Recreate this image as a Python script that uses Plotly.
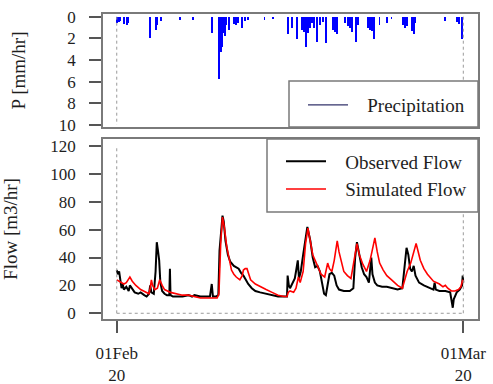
import pandas as pd
import plotly.graph_objects as go

START = pd.Timestamp("2020-02-01")
END = pd.Timestamp("2020-03-01")

# Precipitation [mm/hr]: day offsets from 01Feb and depths
precip_day = [0.0, 0.17, 0.33, 0.6, 0.84, 1.0, 2.76, 3.26, 3.39, 3.68, 5.27, 6.36, 7.95,
              8.54, 8.62, 8.70, 8.79, 8.87, 9.04, 9.2, 9.37, 9.79, 9.96, 10.13, 10.46, 10.71,
              10.96, 12.38, 13.05, 14.31, 14.64, 15.06, 15.48, 15.65, 15.82, 15.98, 16.15,
              16.32, 16.49, 16.74, 16.99, 17.24, 17.49, 18.08, 18.25, 18.41, 19.08, 19.33,
              19.5, 19.67, 20.0, 20.17, 21.0, 21.17, 21.34, 21.51, 22.0, 22.6, 23.0, 23.93,
              24.1, 24.27, 24.69, 24.85, 25.0, 27.45, 28.45, 28.62, 28.87]
precip_val = [0.6, 0.5, 0.4, 0.7, 0.8, 0.6, 2.0, 1.2, 0.8, 0.4, 0.3, 0.3, 1.5,
              5.8, 3.0, 3.3, 2.8, 1.5, 1.8, 0.8, 1.2, 0.7, 0.8, 0.6, 1.0, 0.4,
              0.3, 0.3, 0.2, 1.6, 1.0, 2.1, 1.2, 1.4, 2.8, 1.5, 1.0,
              0.6, 1.0, 2.3, 0.8, 0.5, 2.4, 1.2, 1.4, 1.6, 0.6, 0.9,
              1.0, 1.4, 2.3, 0.8, 1.0, 1.2, 1.3, 2.1, 0.8, 0.6, 0.2, 0.8,
              1.0, 0.9, 1.3, 1.6, 0.6, 0.4, 0.5, 0.7, 2.1]

# Observed flow [m3/hr]
obs_day = [0.0, 0.1, 0.2, 0.3, 0.4, 0.5, 0.6, 0.8, 1.0, 1.1, 1.3, 1.5, 1.8, 2.0, 2.3, 2.5,
           2.7, 2.8, 2.9, 3.1, 3.25, 3.35, 3.45, 3.55, 3.65, 3.8, 4.0, 4.2, 4.4, 4.45, 4.5,
           4.7, 5.0, 5.5, 6.0, 6.3, 6.5, 7.0, 7.5, 7.8, 7.95, 8.05, 8.3, 8.5, 8.6, 8.75,
           8.85, 8.95, 9.1, 9.3, 9.5, 9.8, 10.0, 10.2, 10.4, 10.6, 10.8, 11.0, 11.3, 11.6,
           12.0, 12.5, 13.0, 13.5, 14.0, 14.25, 14.3, 14.4, 14.5, 14.7, 14.9, 15.0, 15.15,
           15.25, 15.4, 15.6, 15.8, 15.95, 16.2, 16.4, 16.6, 16.8, 17.0, 17.2, 17.35, 17.5,
           17.65, 17.8, 18.0, 18.2, 18.4, 18.6, 19.0, 19.5, 19.8, 19.95, 20.1, 20.3, 20.5,
           20.7, 20.9, 21.1, 21.3, 21.4, 21.6, 21.8, 22.2, 22.6, 23.1, 23.5, 23.9, 24.1,
           24.25, 24.4, 24.55, 24.7, 24.85, 25.0, 25.3, 25.7, 26.2, 26.5, 26.6, 26.7, 27.0,
           27.5, 27.9, 28.05, 28.12, 28.2, 28.45, 28.7, 28.9, 28.95, 29.0]
obs_val = [31, 28, 30, 24, 18, 21, 17, 19, 16, 20, 17, 15, 14, 15, 13, 12,
           14, 20, 15, 14, 30, 51, 45, 38, 22, 16, 14, 13, 13, 32, 13,
           12, 12, 12, 13, 12, 13, 12, 12, 12, 21, 12, 12, 13, 45, 62,
           70, 66, 52, 42, 37, 34, 33, 32, 29, 27, 24, 21, 18, 16,
           15, 14, 13, 12, 12, 12, 27, 20, 18, 22, 25, 30, 38,
           25, 30, 42, 55, 62, 52, 40, 33, 34, 30, 22, 14, 13,
           20, 28, 29, 27, 20, 17, 16, 16, 18, 40, 51, 42, 33,
           28, 26, 22, 40, 28, 22, 20, 19, 19, 18, 17, 18, 35,
           47, 42, 32, 30, 34, 27, 22, 20, 18, 17, 22, 17, 16,
           16, 15, 8, 4, 10, 15, 17, 20, 27, 22]

# Simulated flow [m3/hr]
sim_day = [0.0, 0.2, 0.4, 0.6, 0.8, 1.0, 1.1, 1.3, 1.6, 2.0, 2.4, 2.7, 2.8, 2.9, 3.0, 3.2,
           3.4, 3.6, 3.8, 4.0, 4.5, 5.0, 5.5, 6.0, 6.5, 7.0, 7.5, 8.0, 8.4, 8.55, 8.7, 8.85,
           9.0, 9.2, 9.4, 9.6, 9.8, 10.0, 10.3, 10.5, 10.6, 10.75, 10.9, 11.0, 11.2, 11.6,
           12.0, 12.5, 13.0, 13.5, 14.0, 14.25, 14.35, 14.5, 14.8, 15.0, 15.2, 15.35, 15.6,
           15.8, 16.0, 16.2, 16.4, 16.7, 16.9, 17.1, 17.4, 17.65, 17.8, 18.0, 18.2, 18.45,
           18.6, 18.8, 19.0, 19.3, 19.6, 19.9, 20.1, 20.3, 20.6, 20.9, 21.2, 21.5, 21.6,
           21.8, 22.0, 22.3, 22.6, 23.0, 23.5, 23.9, 24.1, 24.3, 24.6, 24.85, 25.05, 25.2,
           25.4, 25.7, 26.0, 26.5, 27.0, 27.3, 27.5, 27.7, 28.0, 28.3, 28.6, 28.8, 28.95, 29.0]
sim_val = [24, 23, 22, 21, 22, 25, 26, 23, 20, 17, 15, 14, 18, 24, 20, 17,
           18, 24, 20, 17, 15, 14, 13, 13, 12, 11, 11, 11, 11, 14, 50, 69,
           62, 48, 38, 31, 28, 26, 24, 27, 31, 32, 32, 29, 24, 21,
           19, 17, 15, 13, 12, 12, 15, 16, 15, 18, 26, 22, 30,
           50, 61, 52, 42, 36, 32, 28, 26, 36, 32, 30, 38, 52,
           44, 36, 30, 27, 25, 40, 50, 42, 35, 30, 38, 50, 54,
           44, 36, 31, 27, 24, 20, 18, 24, 30, 36, 44, 50, 45,
           38, 32, 28, 23, 21, 19, 20, 18, 16, 16, 17, 19, 24, 22]

x_tick_vals = [START, END]
x_tick_text = ["01Feb<br>20", "01Mar<br>20"]
p_ticks = [0, 2, 4, 6, 8, 10]
q_ticks = [0, 20, 40, 60, 80, 100, 120]


def to_time(days):
    return START + pd.to_timedelta(days, unit="D")


FONT = "Liberation Serif"
FS_TICK = 17
FS_TITLE = 19
FS_LEG = 19
TXT = "#1e1e1e"
GAP = "\u00a0\u00a0\u00a0"  # spacing between legend line sample and its label

W, H = 493, 384
ML, MR, MT, MB = 103, 15, 14, 65
PW, PH = W - ML - MR, H - MT - MB


def py(ypix):
    return (H - MB - ypix) / PH


def px(xpix):
    return (xpix - ML) / PW


fig = go.Figure()

fig.add_trace(go.Bar(x=to_time(precip_day), y=precip_val, base=0, width=4.5e6,
                     marker=dict(color="#0000ff", line=dict(width=0)),
                     xaxis="x", yaxis="y", showlegend=False, hoverinfo="skip"))
fig.add_trace(go.Scatter(x=[None], y=[None], mode="lines", name=GAP + "Precipitation",
                         line=dict(color="#33336b", width=1.2), xaxis="x", yaxis="y",
                         legend="legend"))
fig.add_trace(go.Scatter(x=to_time(obs_day), y=obs_val, mode="lines",
                         name=GAP + "Observed Flow",
                         line=dict(color="black", width=2), xaxis="x2", yaxis="y2",
                         legend="legend2"))
fig.add_trace(go.Scatter(x=to_time(sim_day), y=sim_val, mode="lines",
                         name=GAP + "Simulated Flow",
                         line=dict(color="#ff0000", width=1.6), xaxis="x2", yaxis="y2",
                         legend="legend2"))

xr = [START - pd.Timedelta(days=1.15), END + pd.Timedelta(days=1.23)]
frame = dict(showline=True, mirror=True, linecolor="#7a7a7a", linewidth=1.5,
             showgrid=False, zeroline=False, automargin=False)
tickfont = dict(family=FONT, size=FS_TICK, color=TXT)
titlefont = dict(family=FONT, size=FS_TITLE, color=TXT)

top_dom = [py(127), py(14)]
bot_dom = [0, py(139)]

fig.update_layout(
    width=W, height=H,
    margin=dict(l=ML, r=MR, t=MT, b=MB, autoexpand=False),
    paper_bgcolor="white", plot_bgcolor="white",
    font=dict(family=FONT, size=FS_TICK, color=TXT),
    xaxis=dict(domain=[0, 1], anchor="y", type="date", range=xr, showticklabels=False,
               ticks="", **frame),
    yaxis=dict(domain=top_dom, anchor="x", range=[10.2, -0.25], tickvals=p_ticks,
               ticks="outside", ticklen=12, tickwidth=1.5, tickcolor="#555",
               ticklabelstandoff=10, tickfont=tickfont,
               title=dict(text="P [mm/hr]", font=titlefont, standoff=28), **frame),
    xaxis2=dict(domain=[0, 1], anchor="y2", type="date", range=xr, tickvals=x_tick_vals,
                ticktext=x_tick_text, ticks="outside", ticklen=12, tickwidth=1.5,
                tickcolor="#555", tickfont=dict(family=FONT, size=17, color=TXT),
                ticklabelstandoff=6, **frame),
    yaxis2=dict(domain=bot_dom, anchor="x2", range=[-4.1, 125], tickvals=q_ticks,
                ticks="outside", ticklen=12, tickwidth=1.5, tickcolor="#555",
                ticklabelstandoff=10, tickfont=tickfont,
                title=dict(text="Flow [m3/hr]", font=titlefont, standoff=28), **frame),
    legend=dict(x=px(303), xanchor="left", y=py(105), yanchor="middle",
                bgcolor="rgba(0,0,0,0)", borderwidth=0, itemwidth=40,
                font=dict(family=FONT, size=FS_LEG, color=TXT)),
    legend2=dict(x=px(281), xanchor="left", y=py(175.5), yanchor="middle",
                 bgcolor="rgba(0,0,0,0)", borderwidth=0, itemwidth=40, tracegroupgap=0,
                 font=dict(family=FONT, size=FS_LEG, color=TXT)),
    bargap=0,
)

dot = dict(color="#9a9a9a", width=1, dash="dot")
shapes = [
    dict(type="line", xref="x", yref="y", x0=START, x1=START, y0=0, y1=10, line=dot),
    dict(type="line", xref="x", yref="y", x0=END, x1=END, y0=0, y1=10, line=dot),
    dict(type="line", xref="x2", yref="y2", x0=START, x1=START, y0=0, y1=120, line=dot),
    dict(type="line", xref="x2", yref="y2", x0=END, x1=END, y0=0, y1=120, line=dot),
    dict(type="line", xref="x2", yref="y2", x0=START, x1=END, y0=0, y1=0, line=dot),
    dict(type="rect", xref="paper", yref="paper", x0=px(289), x1=1, y0=py(127), y1=py(81),
         fillcolor="white", line=dict(color="#7a7a7a", width=1.5), layer="above"),
    dict(type="rect", xref="paper", yref="paper", x0=px(267), x1=1, y0=py(212), y1=py(139),
         fillcolor="white", line=dict(color="#7a7a7a", width=1.5), layer="above"),
]
fig.update_layout(shapes=shapes)

fig.write_html("out.html",
               config={"displayModeBar": False},
               post_script="document.body.style.margin='0px';"
                           "document.body.style.overflow='hidden';")
